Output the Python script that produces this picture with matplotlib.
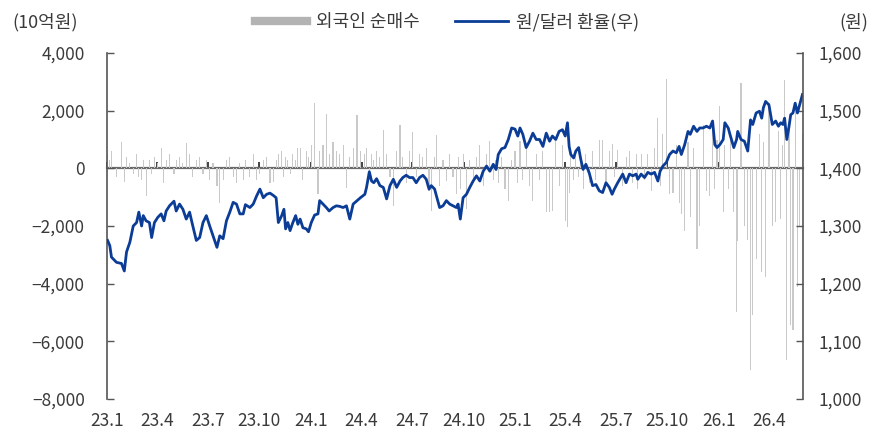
import matplotlib
matplotlib.use("Agg")
import matplotlib.pyplot as plt
import matplotlib.dates as mdates
from matplotlib.lines import Line2D
from matplotlib.ticker import FuncFormatter
import pandas as pd

plt.rcParams['font.family'] = ['Noto Sans CJK KR', 'DejaVu Sans']

### values (roughly weekly samples)
dates = [
    "2023-01-02", "2023-01-06", "2023-01-09", "2023-01-18", "2023-01-27", "2023-02-01", "2023-02-05", "2023-02-11",
    "2023-02-17", "2023-02-23", "2023-02-27", "2023-03-04", "2023-03-07", "2023-03-12", "2023-03-18", "2023-03-22",
    "2023-03-27", "2023-04-02", "2023-04-08", "2023-04-13", "2023-04-17", "2023-04-23", "2023-05-01", "2023-05-05",
    "2023-05-11", "2023-05-17", "2023-05-23", "2023-05-29", "2023-06-03", "2023-06-10", "2023-06-16", "2023-06-22",
    "2023-06-28", "2023-07-04", "2023-07-10", "2023-07-17", "2023-07-22", "2023-07-28", "2023-08-03", "2023-08-09",
    "2023-08-15", "2023-08-21", "2023-08-27", "2023-09-02", "2023-09-06", "2023-09-14", "2023-09-20", "2023-09-26",
    "2023-10-02", "2023-10-08", "2023-10-14", "2023-10-20", "2023-10-26", "2023-10-31", "2023-11-04", "2023-11-10",
    "2023-11-14", "2023-11-17", "2023-11-21", "2023-11-25", "2023-11-30", "2023-12-05", "2023-12-09", "2023-12-13",
    "2023-12-18", "2023-12-24", "2023-12-28", "2024-01-02", "2024-01-08", "2024-01-14", "2024-01-17", "2024-01-23",
    "2024-01-29", "2024-02-03", "2024-02-10", "2024-02-16", "2024-02-22", "2024-02-28", "2024-03-05", "2024-03-11",
    "2024-03-17", "2024-03-24", "2024-03-30", "2024-04-07", "2024-04-10", "2024-04-15", "2024-04-19", "2024-04-23",
    "2024-04-28", "2024-05-04", "2024-05-10", "2024-05-16", "2024-05-22", "2024-05-28", "2024-06-03", "2024-06-09",
    "2024-06-14", "2024-06-20", "2024-06-26", "2024-07-02", "2024-07-08", "2024-07-14", "2024-07-20", "2024-07-26",
    "2024-07-31", "2024-08-04", "2024-08-10", "2024-08-13", "2024-08-19", "2024-08-25", "2024-08-31", "2024-09-06",
    "2024-09-12", "2024-09-18", "2024-09-21", "2024-09-25", "2024-09-30", "2024-10-06", "2024-10-12", "2024-10-18",
    "2024-10-24", "2024-10-30", "2024-11-05", "2024-11-11", "2024-11-17", "2024-11-23", "2024-11-28", "2024-12-02",
    "2024-12-08", "2024-12-14", "2024-12-20", "2024-12-26", "2025-01-01", "2025-01-06", "2025-01-10", "2025-01-15",
    "2025-01-21", "2025-01-27", "2025-02-02", "2025-02-08", "2025-02-14", "2025-02-20", "2025-02-26", "2025-03-04",
    "2025-03-09", "2025-03-15", "2025-03-21", "2025-03-27", "2025-04-01", "2025-04-05", "2025-04-08", "2025-04-11",
    "2025-04-16", "2025-04-20", "2025-04-25", "2025-04-29", "2025-05-03", "2025-05-08", "2025-05-14", "2025-05-20",
    "2025-05-26", "2025-06-01", "2025-06-07", "2025-06-13", "2025-06-19", "2025-06-24", "2025-06-28", "2025-07-04",
    "2025-07-13", "2025-07-19", "2025-07-25", "2025-07-31", "2025-08-06", "2025-08-09", "2025-08-15", "2025-08-21",
    "2025-08-27", "2025-09-02", "2025-09-08", "2025-09-14", "2025-09-18", "2025-09-23", "2025-09-29", "2025-10-05",
    "2025-10-11", "2025-10-17", "2025-10-22", "2025-10-26", "2025-11-01", "2025-11-07", "2025-11-11", "2025-11-17",
    "2025-11-23", "2025-11-28", "2025-12-04", "2025-12-10", "2025-12-16", "2025-12-21", "2025-12-25", "2025-12-29",
    "2026-01-03", "2026-01-09", "2026-01-12", "2026-01-18", "2026-01-22", "2026-01-28", "2026-02-02", "2026-02-04",
    "2026-02-10", "2026-02-16", "2026-02-22", "2026-02-27", "2026-03-03", "2026-03-09", "2026-03-15", "2026-03-19",
    "2026-03-22", "2026-03-26", "2026-04-01", "2026-04-07", "2026-04-13", "2026-04-18", "2026-04-22", "2026-04-26",
    "2026-04-29", "2026-05-03", "2026-05-07", "2026-05-10", "2026-05-14", "2026-05-18", "2026-05-22", "2026-05-26",
    "2026-05-31",
]

# 원/달러 환율 (right axis, 원)
krw_usd = [
    1275, 1266, 1246, 1237, 1235, 1222, 1255, 1272, 1300, 1306, 1324, 1300, 1318, 1309, 1306, 1280,
    1306, 1315, 1321, 1309, 1326, 1335, 1343, 1326, 1338, 1329, 1312, 1324, 1303, 1275, 1280, 1306,
    1318, 1300, 1283, 1263, 1283, 1278, 1309, 1324, 1341, 1338, 1321, 1321, 1337, 1332, 1338, 1352,
    1364, 1349, 1355, 1357, 1353, 1349, 1306, 1318, 1329, 1295, 1306, 1292, 1306, 1318, 1303, 1312,
    1297, 1295, 1290, 1306, 1319, 1321, 1344, 1338, 1332, 1326, 1332, 1335, 1334, 1332, 1335, 1312,
    1338, 1344, 1349, 1355, 1367, 1394, 1378, 1375, 1382, 1370, 1367, 1347, 1370, 1381, 1367, 1378,
    1384, 1388, 1384, 1384, 1375, 1384, 1388, 1381, 1364, 1370, 1364, 1353, 1332, 1335, 1344, 1338,
    1335, 1332, 1338, 1312, 1349, 1355, 1367, 1378, 1387, 1378, 1395, 1404, 1395, 1407, 1398, 1424,
    1434, 1436, 1450, 1470, 1468, 1456, 1470, 1459, 1436, 1447, 1461, 1450, 1450, 1438, 1461, 1447,
    1456, 1450, 1464, 1467, 1456, 1479, 1438, 1424, 1418, 1430, 1436, 1415, 1398, 1407, 1392, 1370,
    1372, 1361, 1358, 1375, 1367, 1355, 1364, 1375, 1390, 1375, 1390, 1387, 1390, 1381, 1390, 1384,
    1393, 1390, 1393, 1378, 1395, 1404, 1410, 1424, 1430, 1427, 1438, 1424, 1441, 1464, 1459, 1473,
    1464, 1470, 1470, 1473, 1470, 1482, 1441, 1436, 1441, 1450, 1479, 1470, 1456, 1436, 1450, 1464,
    1450, 1447, 1430, 1484, 1476, 1496, 1499, 1487, 1505, 1516, 1510, 1476, 1482, 1473, 1479, 1476,
    1487, 1450, 1473, 1493, 1496, 1513, 1496, 1510, 1528,
]

# 외국인 순매수 (left axis, 10억원)
foreign_net = [
    500, 300, 600, -300, 900, -480, 400, 200, -200, 500, -300, -400, 300, -950, 300, -200,
    400, 200, 700, -500, 300, 500, -200, 300, 400, 200, 870, 500, -300, 300, 400, -200,
    300, -400, 200, -600, -1200, -400, 300, 400, -300, -500, 200, -400, 300, -300, 500, -400,
    -200, 300, 400, -500, -480, 300, 500, 600, -300, 400, 300, -200, 500, 300, 700, 700,
    -400, 600, 400, 800, 2270, -900, 600, 800, 1900, 500, 900, 600, 500, 800, -670, 400,
    700, 1850, 600, 500, 700, -400, 500, 300, 600, 400, 1340, 500, -300, -1300, 600, 1500,
    400, -500, 600, 1250, -300, 500, 400, 700, -800, -1470, 400, 1170, -600, 300, -450, 500,
    -300, -900, 400, -700, 500, -1410, 300, -500, 400, 800, -600, 500, 950, -400, 300, -500,
    400, -700, -1130, 300, 600, -500, 950, -400, 700, -600, -1130, 500, -400, 600, -1530, -1500,
    -1470, 950, -600, 800, -1820, -2050, -850, 500, -400, 600, -300, 400, -700, 500, -500, 600,
    -400, 1000, 1000, -500, 600, 850, -300, 650, -600, 400, 600, -500, 500, -700, 480, -400,
    500, -800, 700, 1750, -600, 1200, 3100, -900, -840, 800, -1200, -1590, -2160, 900, -1700, 700,
    -2790, -1990, 1500, -800, -950, 1630, -700, 1000, 2150, -1530, 800, -720, 1200, -1500, -4980, -2510,
    2950, -2000, -2500, -6990, -5090, -3140, 1200, -3600, 900, -3770, 2270, -1990, -1870, 1300, -1740, 800,
    3070, -6640, 1500, -5440, -5610, 2270, -4100, -1990, 1200,
]

quarter_ticks = ["2023-01-01", "2023-04-01", "2023-07-01", "2023-10-01", "2024-01-01", "2024-04-01",
                 "2024-07-01", "2024-10-01", "2025-01-01", "2025-04-01", "2025-07-01", "2025-10-01",
                 "2026-01-01", "2026-04-01"]
quarter_labels = ["23.1", "23.4", "23.7", "23.10", "24.1", "24.4", "24.7", "24.10",
                  "25.1", "25.4", "25.7", "25.10", "26.1", "26.4"]

x = mdates.date2num(pd.to_datetime(dates))
xt = mdates.date2num(pd.to_datetime(quarter_ticks))

txt = "#3a3a3a"
bar_col = "#c9c9c9"
line_col = "#0b3c96"

fig = plt.figure(figsize=(8.8, 4.33), dpi=100)
ax = fig.add_axes([107 / 880, 34 / 433, 696 / 880, 346 / 433])

ax.bar(x, foreign_net, width=2.0, color=bar_col, linewidth=0)
ax.set_ylim(-8000, 4000)
ax.set_yticks(range(-8000, 4001, 2000))
ax.yaxis.set_major_formatter(FuncFormatter(lambda v, p: f"{v:,.0f}".replace("-", "\u2212")))
ax.set_xlim(mdates.date2num(pd.Timestamp("2023-01-01")), mdates.date2num(pd.Timestamp("2026-06-01")))
ax.set_xticks(xt)
ax.set_xticklabels(quarter_labels)
ax.tick_params(axis="x", length=0, pad=9, labelsize=12.5, labelcolor=txt)
ax.tick_params(axis="y", direction="in", length=5, width=1, pad=16, labelsize=12.5,
               labelcolor=txt, color="#555555")
for s in ["top", "bottom", "right"]:
    ax.spines[s].set_visible(False)
ax.spines["left"].set_color("#555555")
ax.spines["left"].set_linewidth(1.2)

# zero line with small quarter ticks
zero_pos = 8000 / 12000
sec = ax.secondary_xaxis(zero_pos)
sec.set_xticks(xt)
sec.tick_params(axis="x", direction="out", length=4, width=1.2, color="#222222",
                labeltop=False, labelbottom=False)
for s in sec.spines.values():
    s.set_color("#6b6b6b")
    s.set_linewidth(1.6)

ax2 = ax.twinx()
ax2.plot(x, krw_usd, color=line_col, linewidth=2.0)
ax2.set_ylim(1000, 1600)
ax2.set_yticks(range(1000, 1601, 100))
ax2.yaxis.set_major_formatter(FuncFormatter(lambda v, p: f"{v:,.0f}"))
ax2.tick_params(axis="y", direction="in", length=5, width=1, pad=11, labelsize=12.5,
                labelcolor=txt, color="#555555")
for s in ["top", "bottom", "left"]:
    ax2.spines[s].set_visible(False)
ax2.spines["right"].set_color("#555555")
ax2.spines["right"].set_linewidth(1.2)

fig.text(12 / 880, 1 - 22 / 433, "(10억원)", fontsize=13, color=txt, ha="left", va="center")
fig.text(868 / 880, 1 - 22 / 433, "(원)", fontsize=13, color=txt, ha="right", va="center")

handles = [Line2D([], [], color="#b3b3b3", linewidth=6),
           Line2D([], [], color=line_col, linewidth=2)]
fig.legend(handles, ["외국인 순매수", "원/달러 환율(우)"], loc="center",
           bbox_to_anchor=(447 / 880, 1 - 22 / 433), ncol=2, frameon=False,
           fontsize=13, handlelength=2.9, handletextpad=0.45, columnspacing=2.0,
           labelcolor=txt)

fig.savefig("out.png", dpi=100)
